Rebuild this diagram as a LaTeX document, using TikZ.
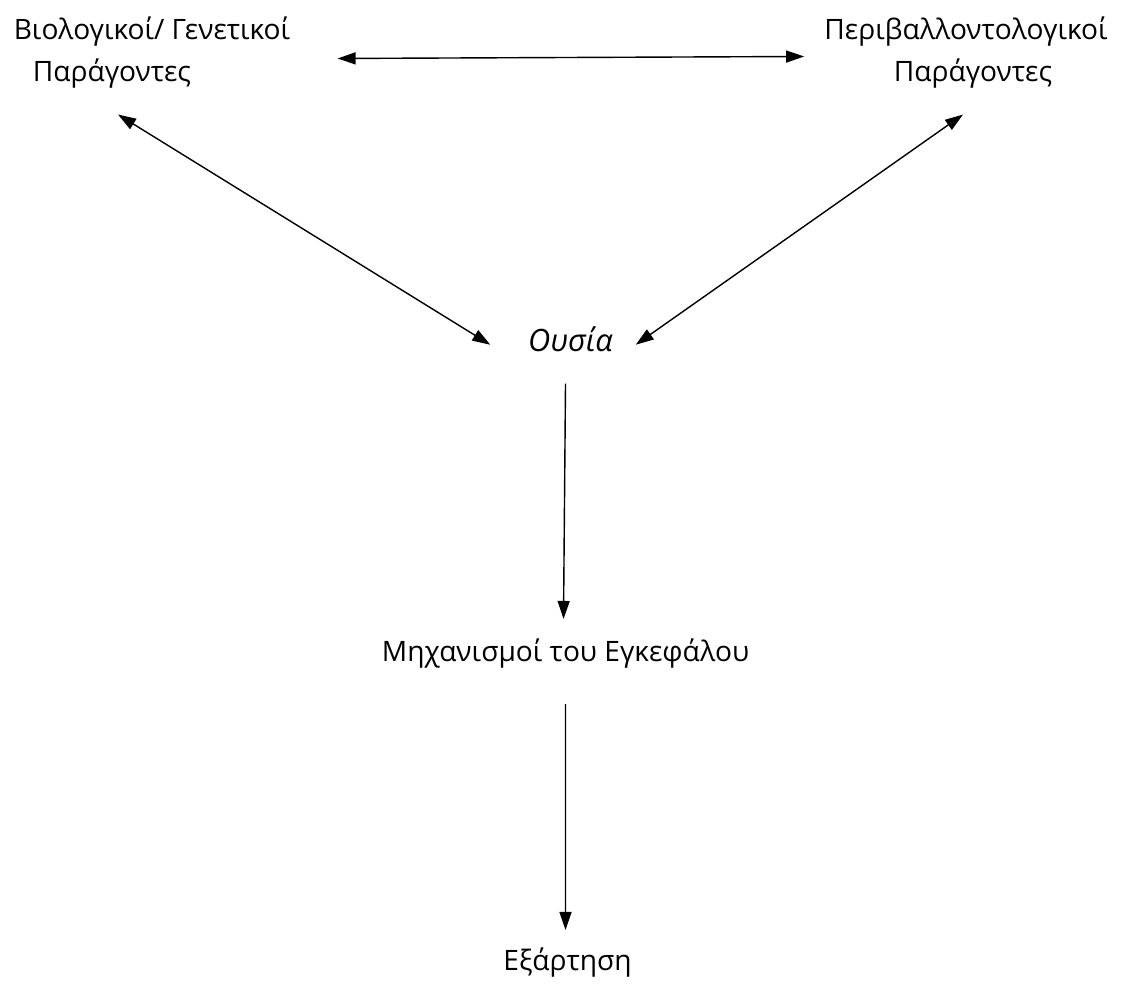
\documentclass[tikz,border=0pt]{standalone}
\usepackage{fontspec}
\setmainfont{Open Sans}
\usetikzlibrary{arrows.meta}
\begin{document}
\begin{tikzpicture}[
    txt/.style={inner sep=0pt, align=center, font=\fontsize{16}{23.9}\selectfont},
    link/.style={line width=0.8pt},
    >={Triangle[length=0.36cm,width=0.24cm]}
  ]
  \useasboundingbox (0,0) rectangle (22.5,19.7);
  \draw
    (3.04,18.65) node[txt] (bio){Βιολογικοί/ Γενετικοί\\Παράγοντες\hspace*{1.6cm}}
    (19.32,18.65) node[txt] (env){Περιβαλλοντολογικοί\\\hspace*{0.28cm}Παράγοντες}
    (11.41,12.66) node[txt,anchor=base,font=\fontsize{17.5}{20}\selectfont] (ousia){\itshape Ουσία}
    (11.31,6.46) node[txt,anchor=base] (mech){Μηχανισμοί του Εγκεφάλου}
    (11.35,0.28) node[txt,anchor=base] (dep){Εξάρτηση};
  \begin{scope}[link,<->]
    \draw ([shift={(0.94,-0.12)}]bio.east) to ([shift={(-0.4,-0.08)}]env.west);
    \draw ([shift={(-0.68,-0.52)}]bio.south) to ([shift={(-0.75,-0.1)}]ousia.west);
    \draw ([shift={(-0.06,-0.52)}]env.south) to ([shift={(0.45,-0.1)}]ousia.east);
  \end{scope}
  \begin{scope}[link,->]
    \draw ([shift={(-0.1,-0.62)}]ousia.south) to ([shift={(-0.04,0.4)}]mech.north);
    \draw ([shift={(0,-0.7)}]mech.south) to ([shift={(-0.04,0.36)}]dep.north);
  \end{scope}
\end{tikzpicture}
\end{document}
